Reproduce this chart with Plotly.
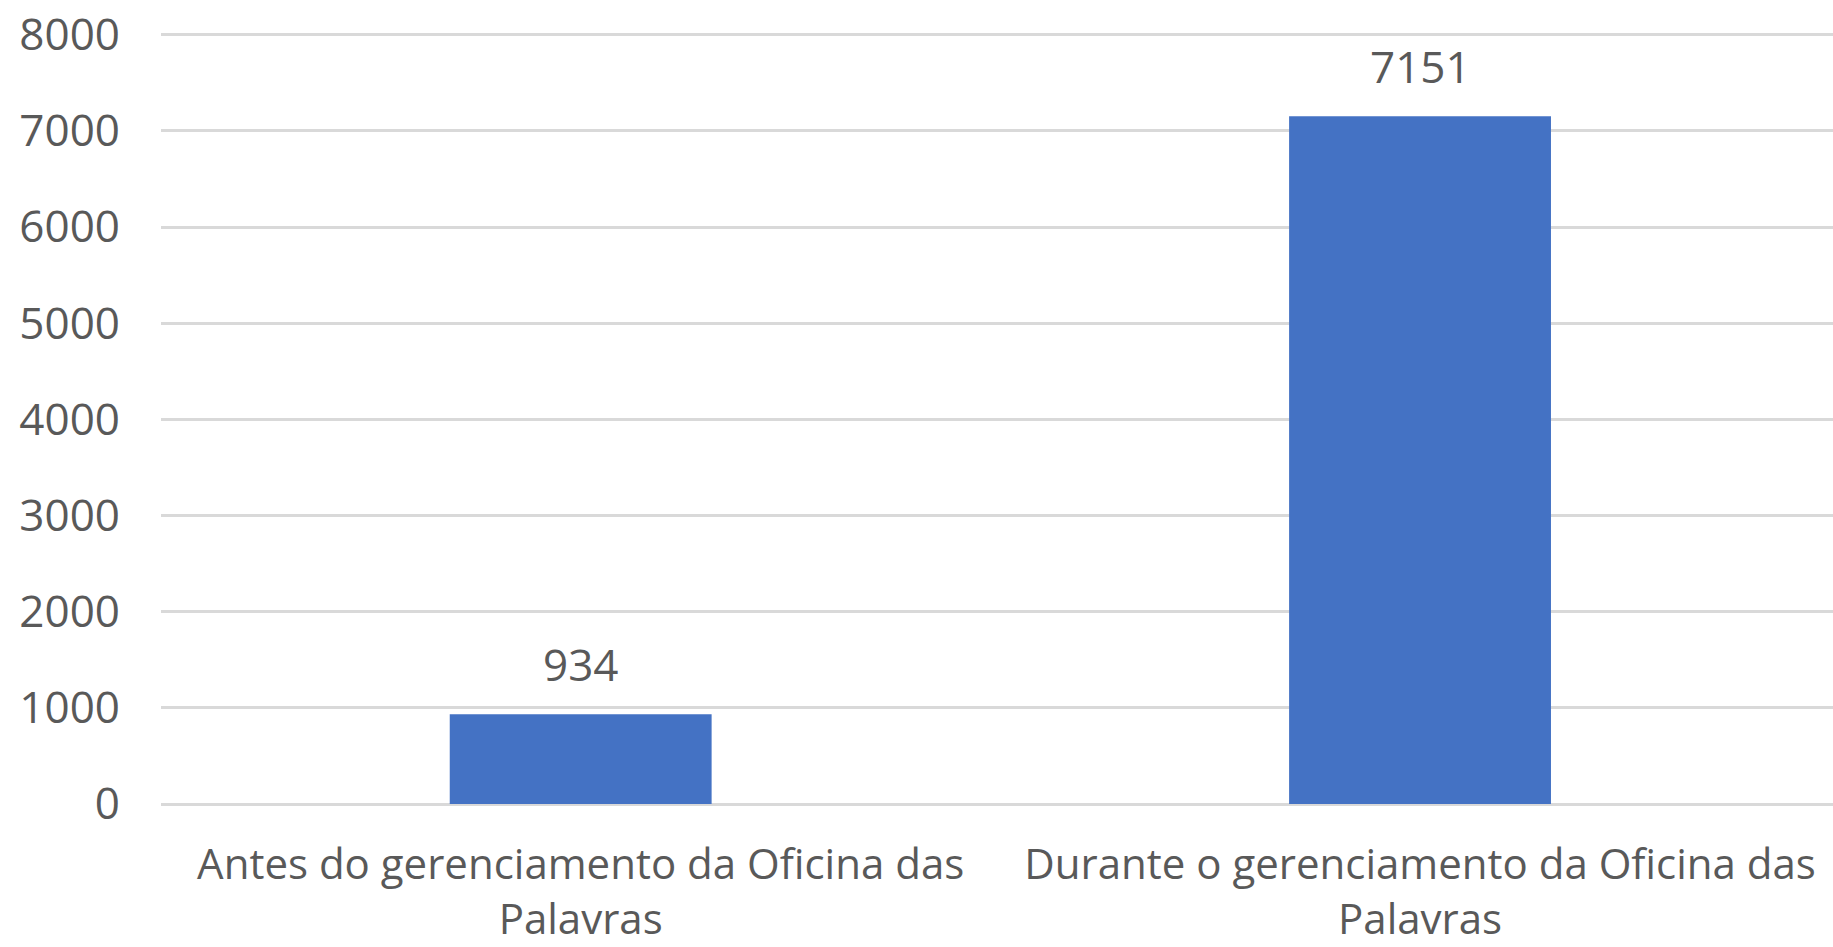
import plotly.graph_objects as go

categories = [
    "Antes do gerenciamento da Oficina das<br>Palavras",
    "Durante o gerenciamento da Oficina das<br>Palavras",
]
values = [934, 7151]
y_ticks = [0, 1000, 2000, 3000, 4000, 5000, 6000, 7000, 8000]

FONT = "Open Sans"
TXT = "#595959"

fig = go.Figure()
fig.add_trace(go.Bar(x=categories, y=values, marker=dict(color="#4472C4", line=dict(width=0)),
                     width=0.312, hoverinfo="skip"))

for c, v in zip(categories, values):
    fig.add_annotation(x=c, y=v, text=str(v), showarrow=False, yanchor="middle", yshift=50,
                       font=dict(family=FONT, size=44, color=TXT))

fig.update_layout(
    width=1833, height=947,
    margin=dict(l=161, r=0, t=27, b=143, autoexpand=False),
    paper_bgcolor="white", plot_bgcolor="white",
    showlegend=False,
    font=dict(family=FONT, size=40, color=TXT),
)
fig.update_xaxes(range=[-0.5, 1.492], showgrid=False, showline=False, ticks="",
                 ticklabelstandoff=32, automargin=False,
                 tickfont=dict(family=FONT, size=42, color=TXT))
fig.update_yaxes(range=[0, 8080], tickvals=y_ticks, ticktext=[str(t) for t in y_ticks],
                 showgrid=True, gridcolor="#d9d9d9", gridwidth=3,
                 zeroline=True, zerolinecolor="#d9d9d9", zerolinewidth=3,
                 showline=False, ticks="", ticklabelstandoff=40, automargin=False,
                 tickfont=dict(family=FONT, size=44, color=TXT))

fig.write_html(
    "out.html",
    config={"displayModeBar": False},
    post_script="document.body.style.margin='0';document.body.style.overflow='hidden';",
)
